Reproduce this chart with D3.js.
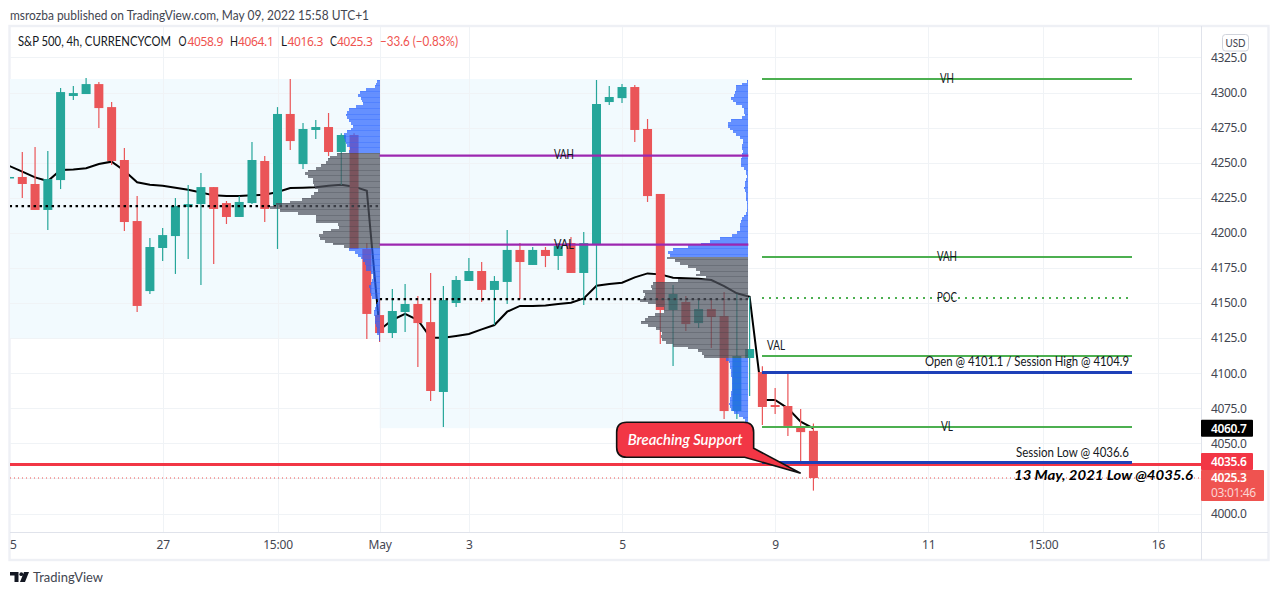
<!DOCTYPE html>
<html><head><meta charset="utf-8">
<script src="https://cdn.jsdelivr.net/npm/d3@7/dist/d3.min.js"></script>
<style>html,body{margin:0;padding:0;background:#fff;overflow:hidden}svg{display:block}
text{font-family:Lato,"Noto Sans",sans-serif}</style></head><body><svg id="c" width="1279" height="595"></svg>
<script>
const opens=[4239.2,4239.8,4234.8,4216.3,4237.6,4297.5,4298.9,4306,4289.6,4251.9,4208.4,4158.5,4189.2,4197.7,4218.4,4220.5,4232.6,4221.2,4211.3,4221.2,4251.2,4219.8,4284.7,4249,4273.3,4275.4,4257.6,4269.7,4188.5,4141.4,4128.6,4143.6,4149.3,4136.4,4086.6,4150,4165.7,4172.8,4159.3,4165,4187.8,4177.1,4187.8,4183.5,4192.7,4171.4,4192,4293.2,4296,4303.9,4274,4227.7,4145,4150.7,4135.7,4145.7,4140.7,4073,4110.8,4100.8,4077.3,4076.6,4061,4058.9];
const highs=[4240,4257.6,4261.1,4258.3,4303.2,4304.6,4310.3,4307.5,4293.2,4260.4,4226.2,4196.3,4203.4,4224.8,4234.1,4242.6,4232.6,4222.7,4226.2,4264.7,4254.7,4289.6,4309.6,4278.2,4280.4,4285.4,4270.9,4270.9,4192.5,4152.1,4160,4163.5,4155,4171.4,4162.1,4169.2,4182.1,4179.2,4169.2,4202,4192.7,4189.9,4189.9,4192.7,4197,4200.6,4308.9,4304.6,4306,4305.3,4281.1,4227.7,4162.8,4155,4152.8,4152.1,4157.8,4156.4,4154.5,4104.9,4089.4,4099.9,4074.5,4064.1];
const lows=[4239,4224.8,4216.3,4202,4231.2,4294.6,4298.9,4274.7,4248.3,4201.3,4143.6,4156.4,4179.9,4170.7,4181.3,4162.8,4177.8,4206.3,4211.3,4220.5,4207.7,4188.5,4259,4245.5,4266.8,4254.7,4234.1,4188.5,4124.3,4122.2,4125,4129.3,4104.4,4080.2,4061.6,4147.1,4165.7,4150.7,4134.3,4149.3,4152.8,4177.1,4175.6,4173.5,4171.4,4148.6,4152.8,4291.1,4292.5,4264.7,4222,4120.8,4105.1,4130,4132.2,4117.9,4067.3,4067.3,4083.7,4063.1,4070.9,4055.2,4036.6,4016.3];
const closes=[4239.8,4234.8,4216.3,4238.3,4300.3,4299.6,4306,4288.9,4251.2,4207.7,4147.9,4189.9,4198.4,4219.1,4220.5,4232.6,4217,4211.3,4222,4251.9,4217,4284.7,4265.4,4274,4275.4,4257.6,4269.7,4188.5,4142.2,4128.6,4144.3,4149.3,4135.7,4087.3,4152.1,4166.4,4172.8,4159.3,4165.7,4187.8,4179.2,4187.8,4183.5,4190.6,4171.4,4192.7,4291.8,4296.8,4303.9,4273.3,4226.2,4145,4156.4,4135,4145.7,4140,4073,4112.2,4117.2,4075.9,4075.9,4062.4,4058,4025.3];
const maLine=[4247.6,4243.6,4239.5,4236.9,4244.8,4245.2,4246,4249,4250.7,4244.3,4236,4234.3,4233.6,4232.2,4230.7,4228.8,4226.7,4226.2,4226.2,4226.7,4227.2,4229.1,4231.9,4232.2,4232.4,4233.6,4234.3,4232.9,4230,4130.8,4137.9,4142.2,4137.9,4125.3,4125.3,4126.5,4127.9,4131.2,4134.3,4143.8,4147.9,4147.9,4148.3,4149.3,4150.2,4153.3,4162.3,4163.5,4164.5,4168.3,4171.1,4170.4,4168,4167.6,4167.3,4166.4,4162.1,4156.9,4154.5,4080.9,4080.9,4074.9,4065.4,4060.7];
const profileTop=4308, profileStep=2;
const profileA=[3,4,5,14,20,22,19,18,17,24,31,33,34,33,31,29,27,29,33,36,36,35,34,33,30,31,43,50,52,54,59,64,72,75,72,67,67,66,65,62,66,69,78,90,104,110,100,82,64,64,64,42,41,49,57,61,60,55,47,36,31,25,22,19,17,15,14,14,9,7,7,8,9,11,10,10,9,8,2,3,4,5,6,6,5,5,5,4,3,3,3,1,1];
const profileB=[1,6,12,12,13,14,17,15,12,6,4,4,3,6,17,20,20,18,15,12,8,5,5,6,6,5,6,6,7,7,7,4,2,2,1,2,3,3,4,3,2,2,2,1,1,1,1,2,4,6,7,8,8,8,11,16,28,38,47,60,75,80,78,81,73,68,60,52,48,52,42,70,95,97,96,105,103,104,108,100,92,84,84,93,100,103,107,100,92,88,86,87,86,82,75,60,50,46,44,22,19,18,18,17,17,17,16,16,16,16,16,17,17,18,18,19,18,17,14,9,5,3,1,1];
const valueAreaA=[4256,4190], valueAreaB=[4182,4112];
const sessionHigh=4309.6, sessionLowA=4124.5, sessionLowB=4060.8;
const sessionEdges=[-1,28,56.9];
const priceTicks=[4325,4300,4275,4250,4225,4200,4175,4150,4125,4100,4075,4050,4000];
const gridPrices=[4325,4300,4275,4250,4225,4200,4175,4150,4125,4100,4075,4050,4025,4000];
const timeTickIdx=[-1,11,20,28,35,47,59,71,80,89];
const timeTickLabels=["25","27","15:00","May","3","5","9","11","15:00","16"];
const levelsPurple=[4255,4191.6];
const pocA=4219, pocB=4152.8;
const levelVH=4309.6, levelVAH=4182.8, levelPOC=4153.5, levelVAL=4112.2, levelVL=4061.6, levelOpen=4100.8, levelSessionLow=4036.6, supportLevel=4035.6, lastPrice=4025.3, maLast=4060.7;

const RED="#ea5558",TEAL="#26a69a",GRID="#f0f3f6",INK="#434651";
const svg=d3.select("#c");
const x=d3.scaleLinear().domain([-1,89]).range([9.54,1157.94]);
const y=d3.scaleLinear().domain([4000,4300]).range([513.5,92.5]);
const volW=d3.scaleLinear().domain([0,100]).range([0,100]);
const L=10,R=1201,T=27,B=532;
svg.append("defs").append("clipPath").attr("id","pl").append("rect").attr("x",L).attr("y",T).attr("width",R-L).attr("height",B-T);
svg.append("defs").append("clipPath").attr("id","tl").append("rect").attr("x",L).attr("y",B).attr("width",R-L).attr("height",27);
svg.append("rect").attr("x",9.5).attr("y",26).attr("width",1259).attr("height",534).attr("fill","none").attr("stroke","#eef0f5").attr("stroke-width",2.4);
const plot=svg.append("g").attr("clip-path","url(#pl)");
[[sessionEdges[0],sessionEdges[1],sessionLowA],[sessionEdges[1],sessionEdges[2],sessionLowB]].forEach(([a,b,lo])=>{
  plot.append("rect").attr("x",x(a)).attr("y",y(sessionHigh)).attr("width",x(b)-x(a)).attr("height",y(lo)-y(sessionHigh)).attr("fill","#f2fafe");
});
plot.selectAll(".gh").data(gridPrices).enter().append("line").attr("x1",L).attr("x2",R).attr("y1",d=>Math.round(y(d))+.5).attr("y2",d=>Math.round(y(d))+.5).attr("stroke",GRID);
plot.selectAll(".gv").data(timeTickIdx.slice(1)).enter().append("line").attr("y1",T).attr("y2",B).attr("x1",d=>Math.round(x(d))+.5).attr("x2",d=>Math.round(x(d))+.5).attr("stroke",GRID);
plot.append("path").attr("d",d3.line().x((d,n)=>x(n-1)).y(d=>y(d))(maLine)).attr("fill","none").attr("stroke","#000").attr("stroke-width",2);
const candles=opens.map((o,n)=>({i:n-1,o,h:highs[n],l:lows[n],c:closes[n]}));
const cg=plot.append("g");
cg.selectAll(".w").data(candles).enter().append("line").attr("x1",d=>x(d.i)).attr("x2",d=>x(d.i)).attr("y1",d=>y(d.h)).attr("y2",d=>y(d.l)).attr("stroke-width",1.2).attr("stroke",d=>d.c>=d.o?TEAL:RED);
cg.selectAll(".b").data(candles).enter().append("rect").attr("x",d=>x(d.i)-4.5).attr("width",9).attr("y",d=>y(Math.max(d.o,d.c))).attr("height",d=>Math.max(1.5,y(Math.min(d.o,d.c))-y(Math.max(d.o,d.c)))).attr("fill",d=>d.c>=d.o?TEAL:RED);
[[pocA,0],[pocB,1]].forEach(([p,n])=>plot.append("line").attr("x1",x(sessionEdges[n])).attr("x2",x(sessionEdges[n+1])).attr("y1",y(p)).attr("y2",y(p)).attr("stroke","#000").attr("stroke-width",2.2).attr("stroke-dasharray","2.5 3.5"));
function drawProfile(arr,edge,va){
  const g=plot.append("g").attr("shape-rendering","crispEdges");
  const rows=arr.map((w,k)=>({w,k,p:profileTop-profileStep*k}));
  const inVA=d=>d.p<=va[0]&&d.p>=va[1];
  const yTop=d=>y(d.p+profileStep/2);
  const h=y(0)-y(profileStep);
  g.selectAll(".r").data(rows).enter().append("rect").attr("x",d=>x(edge)-volW(d.w)).attr("width",d=>volW(d.w)).attr("y",d=>Math.round(yTop(d))).attr("height",d=>Math.round(yTop(d)+h)-Math.round(yTop(d))).attr("fill",d=>inVA(d)?"rgba(80,85,95,.72)":"rgba(41,98,255,.7)");
  g.selectAll(".s").data(rows.filter(d=>d.k%2==0)).enter().append("rect").attr("x",d=>x(edge)-volW(d.w)).attr("width",d=>volW(d.w)).attr("y",d=>Math.round(yTop(d))).attr("height",1).attr("fill",d=>inVA(d)?"rgba(50,55,65,.25)":"rgba(41,98,255,.3)");
}
drawProfile(profileA,sessionEdges[1],valueAreaA);
drawProfile(profileB,sessionEdges[2],valueAreaB);
levelsPurple.forEach(p=>plot.append("line").attr("x1",x(28)).attr("x2",x(56.9)).attr("y1",y(p)).attr("y2",y(p)).attr("stroke","#9c27b0").attr("stroke-width",2.4));
function label(t,px,py,o={}){const s=svg.append("text").attr("x",px).attr("y",py).attr("dy",".35em").attr("text-anchor",o.a||"start").attr("font-size",o.s||12.5).attr("fill",o.f||"#131722").attr("font-weight",o.w||null).attr("font-style",o.i||null).text(t);
 if(o.len)s.attr("textLength",o.len).attr("lengthAdjust","spacingAndGlyphs");return s;}
label("VAH",564,y(levelsPurple[0])-1,{a:"middle",len:20});
label("VAL",564,y(levelsPurple[1]),{a:"middle",len:20});
const lx1=762,lx2=1131.5;
const levels=plot.append("g").attr("shape-rendering","crispEdges");
levels.append("line").attr("x1",L).attr("x2",R).attr("y1",y(supportLevel)+1).attr("y2",y(supportLevel)+1).attr("stroke","#f23645").attr("stroke-width",3);
[levelVH,levelVAH,levelVAL,levelVL].forEach(p=>levels.append("line").attr("x1",lx1).attr("x2",lx2).attr("y1",y(p)).attr("y2",y(p)).attr("stroke","#4caf50").attr("stroke-width",2));
levels.append("line").attr("x1",lx1).attr("x2",lx2).attr("y1",y(levelPOC)).attr("y2",y(levelPOC)).attr("stroke","#4caf50").attr("stroke-width",2).attr("stroke-dasharray","2 5");
[levelOpen,levelSessionLow].forEach(p=>levels.append("line").attr("x1",lx1).attr("x2",lx2).attr("y1",y(p)).attr("y2",y(p)).attr("stroke","#1e40b8").attr("stroke-width",3));
plot.append("line").attr("x1",L).attr("x2",R).attr("y1",y(lastPrice)).attr("y2",y(lastPrice)).attr("stroke","#ef5350").attr("stroke-width",1).attr("stroke-dasharray","1 3");
label("VH",947,y(levelVH)-.5,{a:"middle",len:14});
label("VAH",947,y(levelVAH),{a:"middle",len:20});
label("POC",947,y(levelPOC),{a:"middle",len:20});
label("VAL",767,y(levelVAL)-10,{len:18});
label("VL",947,y(levelVL),{a:"middle",len:12});
label("Open @ 4101.1 / Session High @ 4104.9",1129,y(levelOpen)-10.5,{a:"end",len:204});
label("Session Low @ 4036.6",1129,y(levelSessionLow)-10,{a:"end",len:113});
label("13 May, 2021 Low @4035.6",1193,475.5,{a:"end",s:14,w:"700",i:"italic",f:"#000",len:179});
const tipX=x(61),tipY=y(4028.7);
const cx0=tipX-184,cx1=tipX-47,cy0=tipY-51,cy1=tipY-16,r=10;
const cp=d3.path();
cp.moveTo(cx0+r,cy0);cp.lineTo(cx1-r,cy0);cp.quadraticCurveTo(cx1,cy0,cx1,cy0+r);cp.lineTo(cx1,cy1-9);cp.lineTo(tipX,tipY);cp.lineTo(cx1-9,cy1);cp.lineTo(cx0+r,cy1);cp.quadraticCurveTo(cx0,cy1,cx0,cy1-r);cp.lineTo(cx0,cy0+r);cp.quadraticCurveTo(cx0,cy0,cx0+r,cy0);cp.closePath();
svg.append("path").attr("d",cp.toString()).attr("fill","#f23645").attr("stroke","#111").attr("stroke-width",1.6);
label("Breaching Support",(cx0+cx1)/2,(cy0+cy1)/2,{a:"middle",s:14.5,w:"600",i:"italic",f:"#fff",len:115});
svg.append("line").attr("x1",R+.5).attr("x2",R+.5).attr("y1",26).attr("y2",560).attr("stroke","#e0e3eb");
svg.append("line").attr("x1",10).attr("x2",1268).attr("y1",B+.5).attr("y2",B+.5).attr("stroke","#e0e3eb");
const AXF='"Noto Sans",sans-serif';
const ya=svg.append("g").attr("transform",`translate(${R},0)`).call(d3.axisRight(y).tickValues(priceTicks).tickSize(0).tickPadding(10).tickFormat(d3.format(".1f")));
ya.select(".domain").remove();ya.selectAll("text").attr("font-size",12).style("font-family",AXF).attr("letter-spacing","-.35").attr("fill",INK);
const xg=svg.append("g").attr("clip-path","url(#tl)").append("g").attr("transform",`translate(0,${B})`).call(d3.axisBottom(x).tickValues(timeTickIdx).tickSize(0).tickPadding(8).tickFormat((d,n)=>timeTickLabels[n]));
xg.select(".domain").remove();xg.selectAll("text").attr("font-size",12).style("font-family",AXF).attr("letter-spacing","-.2").attr("fill",INK);
function tagText(t,py,o={}){return label(t,1211,py,{s:12,w:o.w||"600",f:"#fff"}).style("font-family",AXF).attr("letter-spacing","-.35");}
svg.append("rect").attr("x",R).attr("y",y(maLast)-8.5).attr("width",52).attr("height",17).attr("rx",1).attr("fill","#000");
tagText(d3.format(".1f")(maLast),y(maLast));
svg.append("rect").attr("x",R).attr("y",453).attr("width",52).attr("height",17).attr("rx",1).attr("fill","#f23645");
tagText(d3.format(".1f")(supportLevel),461.5);
svg.append("rect").attr("x",R).attr("y",470).attr("width",63).attr("height",31).attr("rx",1).attr("fill","#ef5350");
tagText(d3.format(".1f")(lastPrice),478);
tagText("03:01:46",492.5,{w:"400"}).attr("fill-opacity",.75);
svg.append("rect").attr("x",1222.5).attr("y",34.5).attr("width",26).attr("height",16.5).attr("rx",3).attr("fill","#fff").attr("stroke","#d1d4dc");
label("USD",1235.5,42.8,{a:"middle",s:12,f:INK,len:20});
label("msrozba published on TradingView.com, May 09, 2022 15:58 UTC+1",10,15,{s:13,f:INK,len:359});
label("S&P 500, 4h, CURRENCYCOM",18,42,{s:12.5,f:"#131722",len:153});
[["O",178.5,"4058.9",187.5,8],["H",230,"4064.1",238,8],["L",281,"4016.3",287.5,6],["C",330,"4025.3",337,7]].forEach(([a,ax,b,bx,lw])=>{label(a,ax,42,{s:12.5,len:lw});label(b,bx,42,{s:12,f:"#ef5350"}).style("font-family",AXF).attr("letter-spacing","-.35");});
label("−33.6 (−0.83%)",380,42,{s:12.5,f:"#ef5350",len:78});
const lg=svg.append("g").attr("fill","#131722");
lg.append("path").attr("d","M10 572h8.5v10h-4v-6.5h-4.5z");
lg.append("circle").attr("cx",21.3).attr("cy",574.2).attr("r",1.9);
lg.append("path").attr("d","M24 572h5l-4 10h-5z");
label("TradingView",33,577.5,{s:13.5,f:INK,len:70});
</script></body></html>
